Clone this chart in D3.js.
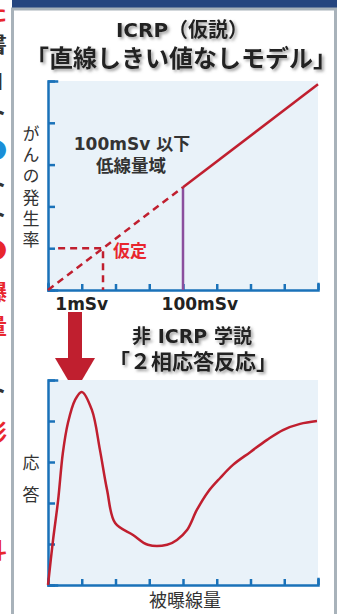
<!DOCTYPE html>
<html>
<head>
<meta charset="utf-8">
<script src="https://cdn.jsdelivr.net/npm/d3@7"></script>
<style>
  body { margin: 0; background: #fff; }
  svg { display: block; }
</style>
</head>
<body>
<div id="chart"></div>
<script>
// --- data ---
const lntPoints = [            // dose (tick units), rate (tick units)
  { x: 0, y: 0 },
  { x: 1.63, y: 1.0 },
  { x: 4.0, y: 2.46 },
  { x: 8.0, y: 4.92 }
]
const lntThreshold = 4.0       // 100mSv
const assumedPoint = { x: 1.63, y: 1.0 }   // 1mSv 仮定
const lntTickLabels = [
  { label: '1mSv', x: 1.0 },
  { label: '100mSv', x: 4.5 }
]
const biphasicDose = [0, 0.15, 0.3, 0.44, 0.59, 0.8, 1.0, 1.3, 1.54, 1.75, 1.99, 2.52, 2.96, 3.53, 3.82, 4.12, 4.41, 4.74, 5.1, 5.48, 5.99, 6.49, 6.96, 7.47, 7.97]
const biphasicResp = [0, 1.1, 2.07, 3.22, 3.95, 4.51, 4.71, 4.27, 3.29, 2.32, 1.51, 1.22, 0.98, 0.98, 1.1, 1.34, 1.83, 2.27, 2.61, 2.93, 3.24, 3.54, 3.78, 3.93, 4.0]
const xTickCount = 8
const yTickCount = 5
// cut-off text column of the neighbouring page
const sideGlyphs = [
  { t: 'た', y: 20, c: '#e8262e' }, { t: '書', y: 52, c: '#333' }, { t: 'Ⅱ', y: 90, c: '#333' },
  { t: 'ト', y: 120, c: '#333' }, { t: '●', y: 158, c: '#1a8fd8' }, { t: 'ト', y: 192, c: '#333' },
  { t: 'ト', y: 222, c: '#333' }, { t: '●', y: 258, c: '#e8262e' }, { t: '曝', y: 300, c: '#e8262e' },
  { t: '量', y: 334, c: '#e8262e' }, { t: 'ト', y: 398, c: '#333' },
  { t: '影', y: 440, c: '#e8262e' }, { t: '・', y: 503, c: '#333' }, { t: '斗', y: 558, c: '#e8262e' }
]

const W = 343, H = 614
const red = '#c01f2f', blue = '#1a72b9', bg = '#e9f2f9', ink = '#333'
const jp = '"Noto Sans CJK JP", sans-serif'
const lat = '"DejaVu Sans", "Noto Sans CJK JP", sans-serif'

const svg = d3.select('#chart').append('svg')
  .attr('width', W).attr('height', H)

const defs = svg.append('defs')
const shadow = defs.append('filter').attr('id', 'shadow')
  .attr('x', '-10%').attr('y', '-30%').attr('width', '120%').attr('height', '160%')
shadow.append('feDropShadow')
  .attr('dx', 2).attr('dy', 2).attr('stdDeviation', 1.8)
  .attr('flood-color', '#777').attr('flood-opacity', 0.7)

// page frame
sideGlyphs.forEach(g => {
  svg.append('text').text(g.t)
    .attr('x', -15).attr('y', g.y)
    .style('font-family', jp).style('font-size', '22px').style('font-weight', 700)
    .attr('fill', g.c)
})
svg.append('rect').attr('x', 12).attr('y', 0).attr('width', 325).attr('height', 8).attr('fill', '#25457f')
svg.append('rect').attr('x', 12.5).attr('y', 9).attr('width', 323).attr('height', 640)
  .attr('fill', '#fff').attr('stroke', '#a8b2ba').attr('stroke-width', 3)

// titles
function title(text, x, y, size) {
  svg.append('text').text(text)
    .attr('x', x).attr('y', y).attr('text-anchor', 'middle')
    .attr('filter', 'url(#shadow)')
    .style('font-family', lat).style('font-size', size + 'px').style('font-weight', 700)
    .attr('fill', '#222')
}
title('ICRP（仮説）', 182, 37, 20)
title('「直線しきい値なしモデル」', 181, 67, 24)
title('非 ICRP 学説', 192, 343, 19)
title('「２相応答反応」', 193, 369, 21)

// axes helper
function frame(yTop, yBottom) {
  const x = d3.scaleLinear().domain([0, xTickCount]).range([48, 318])
  const y = d3.scaleLinear().domain([0, yTickCount]).range([yBottom, yTop])
  svg.append('rect').attr('x', 48).attr('y', yTop)
    .attr('width', 270).attr('height', yBottom - yTop).attr('fill', bg)
  const g = svg.append('g')
  g.append('g').attr('transform', `translate(48,0)`)
    .call(d3.axisLeft(y).ticks(yTickCount).tickSize(-7).tickSizeOuter(-9).tickFormat(''))
  g.append('g').attr('transform', `translate(0,${yBottom})`)
    .call(d3.axisBottom(x).ticks(xTickCount).tickSize(-6).tickSizeOuter(-6).tickFormat(''))
  g.selectAll('path, line').attr('stroke', blue).attr('stroke-width', 2.5)
  g.selectAll('path').attr('stroke-linecap', 'square')
  return { x, y }
}

// --- top chart: LNT ---
const lnt = frame(81, 290)
const line = d3.line().x(d => lnt.x(d.x)).y(d => lnt.y(d.y))

svg.append('line')
  .attr('x1', lnt.x(lntThreshold)).attr('x2', lnt.x(lntThreshold))
  .attr('y1', lnt.y(0)).attr('y2', lnt.y(lntPoints[2].y))
  .attr('stroke', '#8b4f9e').attr('stroke-width', 2.5)

svg.append('path').datum(lntPoints.filter(d => d.x <= lntThreshold))
  .attr('d', line).attr('fill', 'none')
  .attr('stroke', red).attr('stroke-width', 2.5).attr('stroke-dasharray', '7,5')
svg.append('path').datum(lntPoints.filter(d => d.x >= lntThreshold))
  .attr('d', line).attr('fill', 'none')
  .attr('stroke', red).attr('stroke-width', 2.5)

svg.append('path').datum([{ x: 0.3, y: assumedPoint.y }, assumedPoint, { x: assumedPoint.x, y: 0 }])
  .attr('d', line).attr('fill', 'none')
  .attr('stroke', red).attr('stroke-width', 2.5).attr('stroke-dasharray', '7,5')

svg.append('text').text('仮定')
  .attr('x', 113).attr('y', 257)
  .style('font-family', jp).style('font-size', '17px').style('font-weight', 700)
  .attr('fill', '#e8262e')

svg.append('text').text('100mSv 以下')
  .attr('x', 132).attr('y', 150).attr('text-anchor', 'middle')
  .style('font-family', lat).style('font-size', '17px').style('font-weight', 700).attr('fill', ink)
svg.append('text').text('低線量域')
  .attr('x', 131).attr('y', 172).attr('text-anchor', 'middle')
  .style('font-family', jp).style('font-size', '17.5px').style('font-weight', 700).attr('fill', ink)

svg.selectAll('.lntTick').data(lntTickLabels).enter().append('text')
  .attr('class', 'lntTick')
  .text(d => d.label)
  .attr('x', d => lnt.x(d.x)).attr('y', 310).attr('text-anchor', 'middle')
  .style('font-family', lat).style('font-size', '17px').style('font-weight', 700).attr('fill', '#222')

// vertical axis titles
function vlabel(text, x, yTop, spacing) {
  svg.append('text').text(text)
    .attr('x', x).attr('y', yTop)
    .style('writing-mode', 'vertical-rl')
    .style('letter-spacing', spacing + 'px')
    .style('font-family', jp).style('font-size', '17px').attr('fill', ink)
}
vlabel('がんの発生率', 31, 125, 4.2)
vlabel('応答', 31, 454, 15)

// arrow
svg.append('rect').attr('x', 68).attr('y', 312).attr('width', 14).attr('height', 47).attr('fill', red)
svg.append('path').attr('d', 'M55,358 L95,358 L75,392 Z').attr('fill', red)

// --- bottom chart: biphasic ---
const bot = frame(380, 585)
const curve = biphasicDose.map((d, i) => ({ x: d, y: biphasicResp[i] }))
svg.append('path').datum(curve)
  .attr('d', d3.line().curve(d3.curveCatmullRom.alpha(0.5)).x(d => bot.x(d.x)).y(d => bot.y(d.y)))
  .attr('fill', 'none').attr('stroke', red).attr('stroke-width', 2.5)

svg.append('text').text('被曝線量')
  .attr('x', 185).attr('y', 607).attr('text-anchor', 'middle')
  .style('font-family', jp).style('font-size', '18px').attr('fill', ink)
</script>
</body>
</html>
